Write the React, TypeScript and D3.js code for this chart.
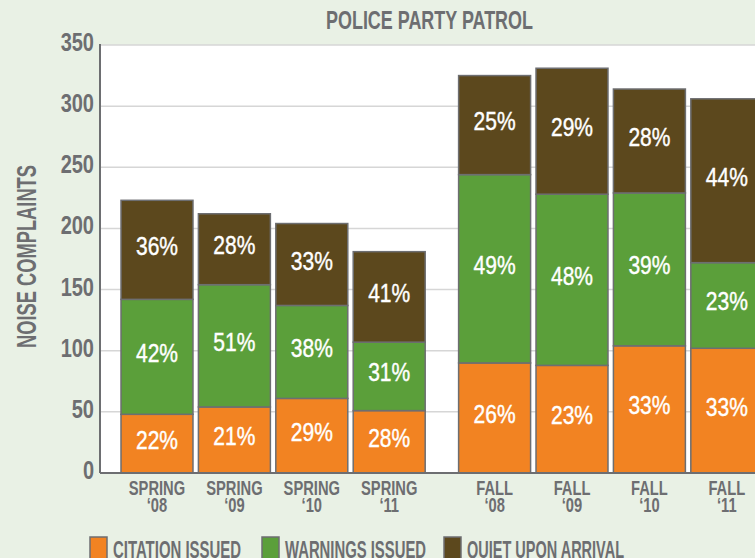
import React, { useEffect, useRef } from 'react';
import * as d3 from 'd3';

// values (noise complaints per semester)
const seasons = ['SPRING', 'SPRING', 'SPRING', 'SPRING', 'FALL', 'FALL', 'FALL', 'FALL'];
const years = ['‘08', '‘09', '‘10', '‘11', '‘08', '‘09', '‘10', '‘11'];
const citations = [48, 54, 61, 51, 90, 88, 104, 102];
const warnings = [94, 100, 76, 56, 154, 140, 125, 70];
const quiet = [81, 58, 67, 74, 81, 103, 85, 134];
const citationPct = ['22%', '21%', '29%', '28%', '26%', '23%', '33%', '33%'];
const warningPct = ['42%', '51%', '38%', '31%', '49%', '48%', '39%', '23%'];
const quietPct = ['36%', '28%', '33%', '41%', '25%', '29%', '28%', '44%'];
const seriesNames = ['CITATION ISSUED', 'WARNINGS ISSUED', 'QUIET UPON ARRIVAL'];
const yTicks = [0, 50, 100, 150, 200, 250, 300, 350];

const keys = ['citations', 'warnings', 'quiet'];
const colors = ['#f28322', '#5b9f3a', '#5c481d'];
const pctLabels = [citationPct, warningPct, quietPct];

// no condensed font available, so squeeze Liberation Sans horizontally
const FONT = "'Liberation Sans', Arial, sans-serif";
const GRAY = '#6d6e71';
const BG = '#e9f1e5';

// shrink a text's width to a fraction of its natural width
function squeeze(sel: any, f: number) {
  sel.each(function (this: SVGTextElement) {
    const w = this.getComputedTextLength();
    d3.select(this).attr('textLength', w * f).attr('lengthAdjust', 'spacingAndGlyphs');
  });
}

const App = () => {
  const ref = useRef<SVGSVGElement>(null);
  const width = 755;
  const height = 558;

  useEffect(() => {
    const svg = d3.select(ref.current);
    svg.selectAll('*').remove();

    const plot = { left: 100, top: 45, bottom: 473, right: width };
    const groupGap = 28;

    const rows = seasons.map((s, i) => ({
      id: String(i),
      citations: citations[i],
      warnings: warnings[i],
      quiet: quiet[i],
    }));

    const y = d3.scaleLinear().domain([0, 350]).range([plot.bottom, plot.top]);
    const x = d3
      .scaleBand()
      .domain(rows.map((d) => d.id))
      .range([121, 121 + 7 * 77.4 + 72])
      .paddingInner(0.07)
      .paddingOuter(0);
    const xPos = (i: number) => (x(String(i)) as number) + (seasons[i] === 'FALL' ? groupGap : 0);
    const bw = x.bandwidth();

    svg.append('rect').attr('width', width).attr('height', height).attr('fill', BG);
    svg
      .append('rect')
      .attr('x', plot.left)
      .attr('y', plot.top)
      .attr('width', plot.right - plot.left)
      .attr('height', plot.bottom - plot.top)
      .attr('fill', '#fff');

    // grid
    svg
      .append('g')
      .selectAll('line')
      .data(yTicks.filter((t) => t > 0))
      .enter()
      .append('line')
      .attr('x1', plot.left)
      .attr('x2', plot.right)
      .attr('y1', (d) => y(d))
      .attr('y2', (d) => y(d))
      .attr('stroke', '#d6d6d6')
      .attr('stroke-width', 1.5);

    // tick labels
    const ticks = svg
      .append('g')
      .selectAll('text')
      .data(yTicks)
      .enter()
      .append('text')
      .attr('x', 94)
      .attr('y', (d) => y(d) + 6)
      .attr('text-anchor', 'end')
      .attr('font-family', FONT)
      .attr('font-weight', 'bold')
      .attr('font-size', 25)
      .attr('fill', GRAY)
      .text((d) => d);
    squeeze(ticks, 0.8);

    // bars
    const stacked = d3.stack<any>().keys(keys)(rows);
    stacked.forEach((layer, k) => {
      const g = svg.append('g');
      g.selectAll('rect')
        .data(layer)
        .enter()
        .append('rect')
        .attr('x', (d, i) => xPos(i))
        .attr('y', (d) => y(d[1]))
        .attr('width', bw)
        .attr('height', (d) => y(d[0]) - y(d[1]))
        .attr('fill', colors[k])
        .attr('stroke', GRAY)
        .attr('stroke-width', 1.5);
      const labels = g
        .selectAll('text')
        .data(layer)
        .enter()
        .append('text')
        .attr('x', (d, i) => xPos(i) + bw / 2)
        .attr('y', (d) => (y(d[0]) + y(d[1])) / 2 + 5)
        .attr('text-anchor', 'middle')
        .attr('font-family', FONT)
        .attr('font-size', 25)
        .attr('fill', '#fff')
        .attr('stroke', '#fff')
        .attr('stroke-width', 0.4)
        .text((d, i) => pctLabels[k][i]);
      squeeze(labels, 0.84);
    });

    // axes lines
    svg
      .append('line')
      .attr('x1', plot.left)
      .attr('x2', plot.left)
      .attr('y1', plot.top - 1)
      .attr('y2', plot.bottom)
      .attr('stroke', GRAY)
      .attr('stroke-width', 2);
    svg
      .append('line')
      .attr('x1', plot.left)
      .attr('x2', plot.right)
      .attr('y1', plot.bottom)
      .attr('y2', plot.bottom)
      .attr('stroke', GRAY)
      .attr('stroke-width', 2);

    // category labels, two lines each
    const cats = svg.append('g');
    [seasons, years].forEach((line, j) => {
      const t = cats
        .selectAll(`text.line${j}`)
        .data(line)
        .enter()
        .append('text')
        .attr('class', `line${j}`)
        .attr('x', (d, i) => xPos(i) + bw / 2)
        .attr('y', 495 + j * 17)
        .attr('text-anchor', 'middle')
        .attr('font-family', FONT)
        .attr('font-weight', 'bold')
        .attr('font-size', 21)
        .attr('fill', GRAY)
        .text((d) => d);
      squeeze(t, 0.7);
    });

    // title
    svg
      .append('text')
      .attr('x', 326)
      .attr('y', 29)
      .attr('textLength', 207)
      .attr('lengthAdjust', 'spacingAndGlyphs')
      .attr('font-family', FONT)
      .attr('font-weight', 'bold')
      .attr('font-size', 25)
      .attr('fill', GRAY)
      .text('POLICE PARTY PATROL');

    // y axis title
    svg
      .append('text')
      .attr('transform', 'translate(36,256.5) rotate(-90)')
      .attr('text-anchor', 'middle')
      .attr('textLength', 183)
      .attr('lengthAdjust', 'spacingAndGlyphs')
      .attr('font-family', FONT)
      .attr('font-weight', 'bold')
      .attr('font-size', 27)
      .attr('fill', GRAY)
      .text('NOISE COMPLAINTS');

    // legend
    const legendX = [90, 262, 444];
    const legendLen = [128, 141, 157];
    const legend = svg.append('g');
    seriesNames.forEach((name, k) => {
      legend
        .append('rect')
        .attr('x', legendX[k])
        .attr('y', 537)
        .attr('width', 17)
        .attr('height', 24)
        .attr('fill', colors[k])
        .attr('stroke', GRAY)
        .attr('stroke-width', 1.5);
      legend
        .append('text')
        .attr('x', legendX[k] + 23)
        .attr('y', 558)
        .attr('textLength', legendLen[k])
        .attr('lengthAdjust', 'spacingAndGlyphs')
        .attr('font-family', FONT)
        .attr('font-weight', 'bold')
        .attr('font-size', 23)
        .attr('fill', GRAY)
        .text(name);
    });
  });

  return (
    <div style={{ position: 'absolute', left: 0, top: 0 }}>
      <svg ref={ref} width={width} height={height} style={{ display: 'block' }}></svg>
    </div>
  );
};

export default App;
